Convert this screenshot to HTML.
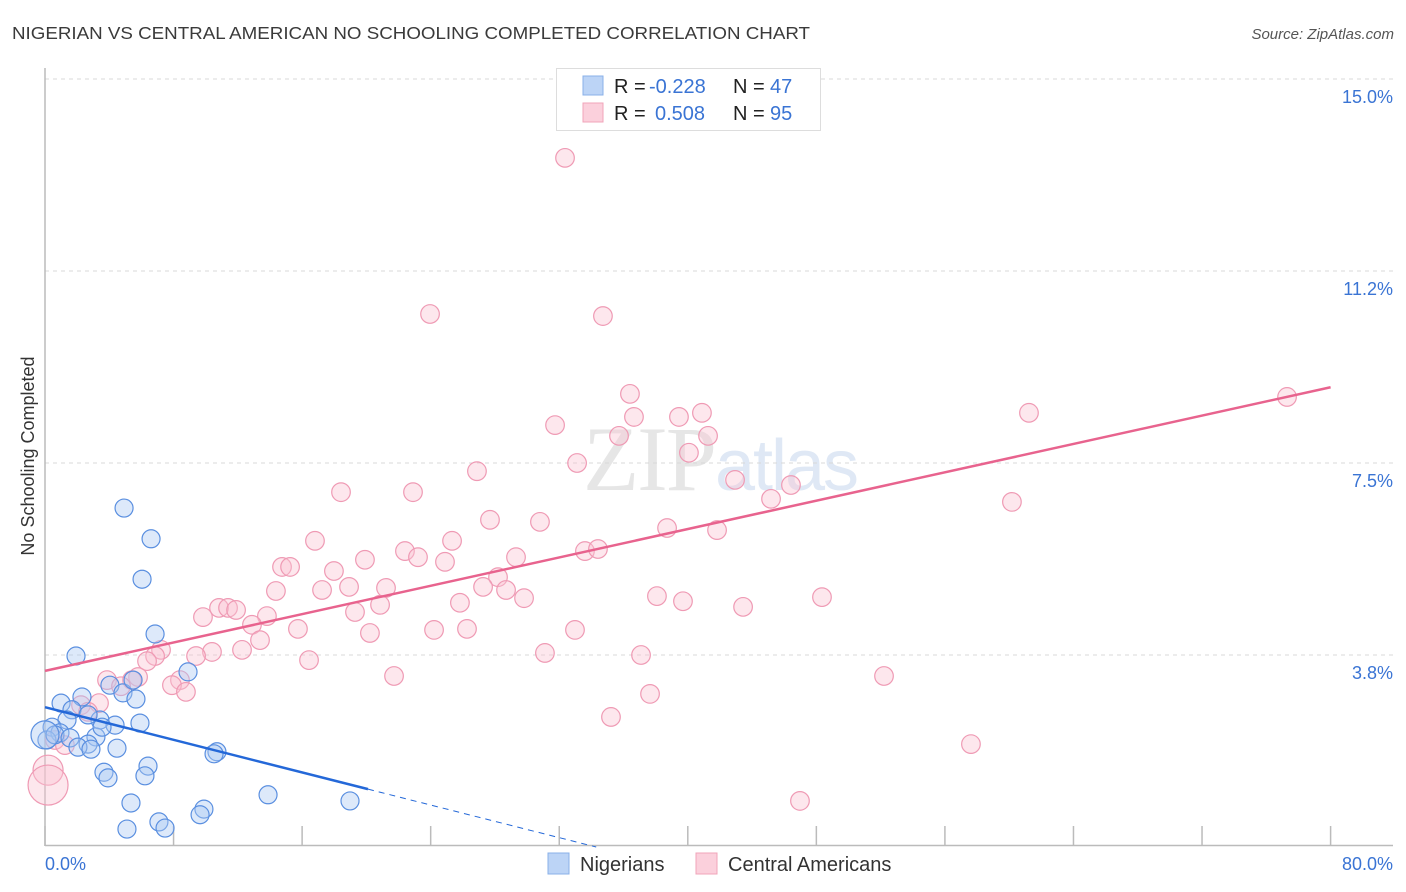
<!DOCTYPE html>
<html><head><meta charset="utf-8"><style>
body{margin:0;background:#fff;font-family:"Liberation Sans",sans-serif;}
svg{display:block}
</style></head><body>
<svg id="chart" width="1406" height="892" xmlns="http://www.w3.org/2000/svg">
<text x="12" y="39" font-size="17.5" fill="#3a3a3a" textLength="798" lengthAdjust="spacingAndGlyphs">NIGERIAN VS CENTRAL AMERICAN NO SCHOOLING COMPLETED CORRELATION CHART</text>
<text x="1394" y="39" font-size="15" fill="#555" font-style="italic" text-anchor="end">Source: ZipAtlas.com</text>
<text transform="translate(34,456) rotate(-90)" font-size="18" fill="#333" text-anchor="middle">No Schooling Completed</text>
<text x="720" y="490" font-size="92" fill="#e6e6e6" text-anchor="middle" font-family="Liberation Serif, serif" letter-spacing="-2">ZIP<tspan fill="#dfe8f5" font-family="Liberation Sans, sans-serif" font-size="72">atlas</tspan></text>
<g id="grid"></g><g id="axes"></g><g id="marks"></g>
<g>
<rect x="556.5" y="68.5" width="264" height="62" fill="#fff" stroke="#ddd"/>
<rect x="583" y="76" width="20" height="19" fill="#bcd4f6" stroke="#8ab0e8"/>
<rect x="583" y="103" width="20" height="19" fill="#fbd0dc" stroke="#f0a4ba"/>
<text x="614" y="93" font-size="20" fill="#222">R =</text>
<text x="649" y="93" font-size="20" fill="#3a74d4">-0.228</text>
<text x="733" y="93" font-size="20" fill="#222">N =</text>
<text x="770" y="93" font-size="20" fill="#3a74d4">47</text>
<text x="614" y="120" font-size="20" fill="#222">R =</text>
<text x="655" y="120" font-size="20" fill="#3a74d4">0.508</text>
<text x="733" y="120" font-size="20" fill="#222">N =</text>
<text x="770" y="120" font-size="20" fill="#3a74d4">95</text>
</g>
<g>
<rect x="548" y="853" width="21" height="21" fill="#bcd4f6" stroke="#8ab0e8"/>
<text x="580" y="871" font-size="20" fill="#333">Nigerians</text>
<rect x="696" y="853" width="21" height="21" fill="#fbd0dc" stroke="#f0a4ba"/>
<text x="728" y="871" font-size="20" fill="#333">Central Americans</text>
</g>
</svg>
<script>
const yTicks=[15.0,11.25,7.5,3.75];
const yTickLabels=["15.0%","11.2%","7.5%","3.8%"];
const xTickVals=[0,8,16,24,32,40,48,56,64,72,80];
const blueX=[4.92,6.60,6.04,6.85,1.93,8.90,2.30,1.00,4.04,4.85,5.48,5.66,1.68,1.37,3.42,4.36,5.91,0.44,0.93,0.12,0.62,1.56,3.17,2.68,2.05,2.86,4.48,10.70,10.52,3.67,6.41,3.92,6.22,13.88,18.98,5.35,9.89,7.09,5.10,7.47,9.65,2.68,3.55,0.0];
const blueY=[6.62,6.02,5.23,4.16,3.73,3.42,2.93,2.81,3.16,3.01,3.26,2.89,2.68,2.48,2.48,2.38,2.42,2.34,2.23,2.09,2.19,2.13,2.15,2.01,1.95,1.91,1.93,1.86,1.82,1.46,1.58,1.35,1.39,1.02,0.90,0.86,0.74,0.49,0.35,0.37,0.63,2.58,2.34,2.19];
const pinkX=[32.36,23.96,34.72,36.40,77.29,61.23,36.65,39.45,40.88,31.74,35.72,41.26,40.07,33.11,26.88,42.94,46.42,18.42,22.90,45.18,60.17,27.69,30.80,38.71,41.82,16.80,25.33,22.40,23.21,33.60,34.41,19.91,24.89,14.75,15.25,29.31,17.98,28.19,27.26,28.69,21.22,18.92,17.24,14.37,29.81,38.08,48.35,25.82,20.85,39.70,43.44,10.83,11.39,11.89,19.29,9.83,13.81,12.88,15.74,20.22,24.21,26.26,32.98,13.38,12.26,10.39,7.22,6.85,9.40,31.11,37.09,6.35,16.43,52.21,21.72,5.79,5.41,3.86,8.40,7.90,8.77,4.73,37.65,3.36,2.24,35.22,2.68,57.62,46.98,0.62,1.24,0.19,0.19];
const pinkY=[13.46,10.41,10.37,8.85,8.79,8.48,8.40,8.40,8.48,8.24,8.03,8.03,7.70,7.50,7.34,7.17,7.07,6.93,6.93,6.80,6.74,6.39,6.35,6.23,6.19,5.98,5.98,5.78,5.66,5.78,5.82,5.61,5.57,5.47,5.47,5.66,5.39,5.27,5.08,5.02,5.06,5.08,5.02,5.00,4.86,4.90,4.88,4.77,4.73,4.80,4.69,4.67,4.67,4.63,4.59,4.49,4.51,4.34,4.26,4.18,4.24,4.26,4.24,4.04,3.85,3.81,3.85,3.73,3.73,3.79,3.75,3.63,3.65,3.34,3.34,3.32,3.26,3.26,3.26,3.16,3.03,3.14,2.99,2.81,2.77,2.54,2.64,2.01,0.90,2.09,1.99,1.50,1.21];
const blueTrend=[2.73,-0.0796,20.1,34.3];
const pinkTrend=[3.44,0.06925];
const NS="http://www.w3.org/2000/svg";
const X=v=>45+v*16.07, Y=v=>847-v*51.2;
function mk(tag,attrs,parent){const e=document.createElementNS(NS,tag);for(const k in attrs)e.setAttribute(k,attrs[k]);parent.appendChild(e);return e;}
const grid=document.getElementById('grid'),axes=document.getElementById('axes'),marks=document.getElementById('marks');
yTicks.forEach((t,i)=>{
 const l=mk('line',{x1:45,x2:1393,y1:Y(t),y2:Y(t),stroke:'#d8d8d8','stroke-dasharray':'4,4'},grid);
 
 
 const tx=mk('text',{x:1393,y:Y(t)+24,'font-size':18,fill:'#3a74d4','text-anchor':'end'},axes);
 tx.textContent=yTickLabels[i];
 
 
});
const la=mk('line',{x1:45,x2:45,y1:68,y2:846,stroke:'#bbb','stroke-width':1.5},axes);


const lb=mk('line',{x1:45,x2:1393,y1:845.5,y2:845.5,stroke:'#bbb','stroke-width':1.5},axes);


xTickVals.forEach(v=>{const t=mk('line',{x1:X(v),x2:X(v),y1:826,y2:846,stroke:'#bbb','stroke-width':1.5},axes);
 
 });
const x0=mk('text',{x:45,y:870,'font-size':18,fill:'#3a74d4'},axes);x0.textContent='0.0%';


const x1=mk('text',{x:1393,y:870,'font-size':18,fill:'#3a74d4','text-anchor':'end'},axes);x1.textContent='80.0%';


function dot(x,y,r,fill,stroke){return mk('circle',{cx:X(x),cy:Y(y),r:r,fill:fill,'fill-opacity':0.4,stroke:stroke,'stroke-width':1.2},marks);}
pinkX.forEach((x,i)=>{const r=i==pinkX.length-1?20:(i==pinkX.length-2?15:9.3);
 const c=dot(x,pinkY[i],r,'#f9c2d2','#ef9ab4');
 
 });
blueX.forEach((x,i)=>{const r=i==blueX.length-1?14:9;
 const c=dot(x,blueY[i],r,'#a9c8f2','#5a8fe0');
 
 });
const pt=mk('line',{x1:X(0),y1:Y(pinkTrend[0]),x2:X(80),y2:Y(pinkTrend[0]+80*pinkTrend[1]),stroke:'#e8638e','stroke-width':2.5},marks);


const bt=mk('line',{x1:X(0),y1:Y(blueTrend[0]),x2:X(blueTrend[2]),y2:Y(blueTrend[0]+blueTrend[1]*blueTrend[2]),stroke:'#2468d8','stroke-width':2.5},marks);


const bd=mk('line',{x1:X(blueTrend[2]),y1:Y(blueTrend[0]+blueTrend[1]*blueTrend[2]),x2:X(blueTrend[3]),y2:Y(blueTrend[0]+blueTrend[1]*blueTrend[3]),stroke:'#2468d8','stroke-width':1,'stroke-dasharray':'6,5'},marks);


</script>
</body></html>
